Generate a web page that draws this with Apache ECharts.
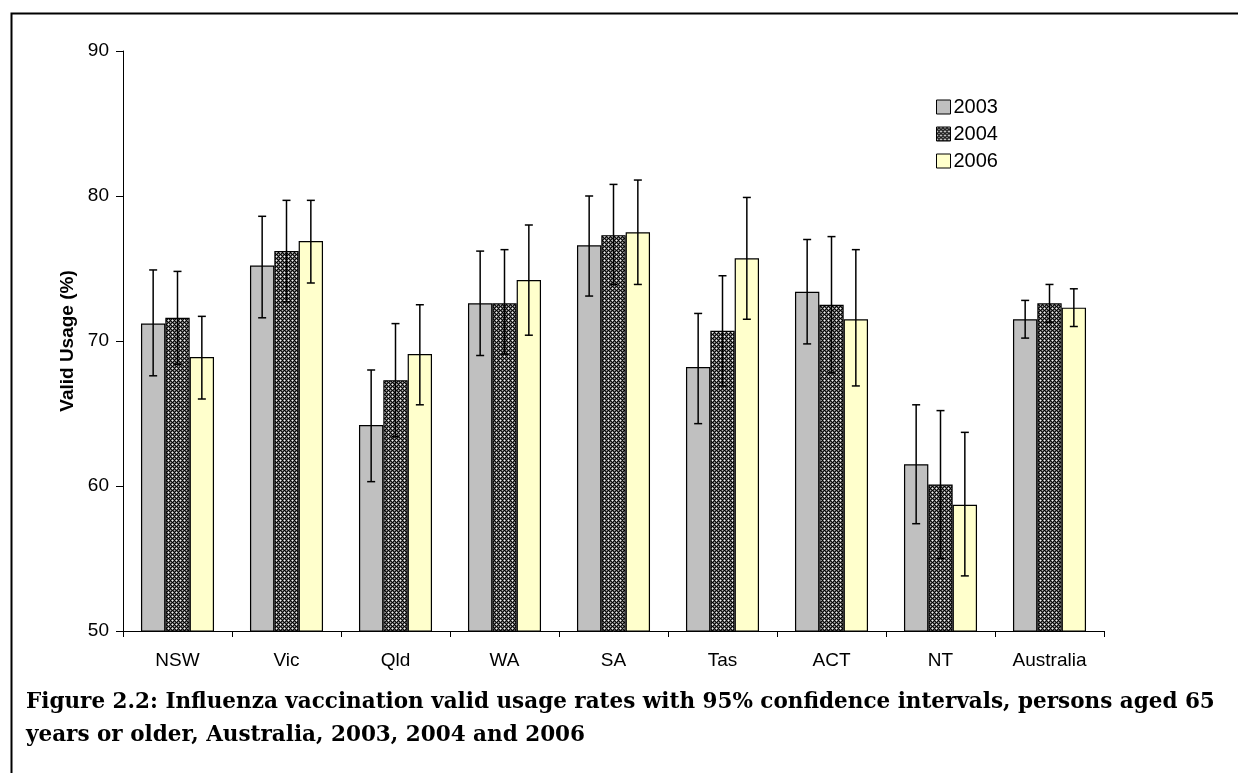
<!DOCTYPE html>
<html>
<head>
<meta charset="utf-8">
<script src="https://cdn.jsdelivr.net/npm/echarts@6/dist/echarts.min.js"></script>
<style>
html,body{margin:0;padding:0;background:#fff;}
#chart{width:1238px;height:773px;}
</style>
</head>
<body>
<div id="chart"></div>
<script>
const categories = ['NSW','Vic','Qld','WA','SA','Tas','ACT','NT','Australia'];
const years = ['2003','2004','2006'];
const v2003  = [71.2, 75.2, 64.2, 72.6, 76.6, 68.2, 73.4, 61.5, 71.5];
const lo2003 = [67.6, 71.6, 60.3, 69.0, 73.1, 64.3, 69.8, 57.4, 70.2];
const hi2003 = [74.9, 78.6, 68.0, 76.2, 80.0, 71.9, 77.0, 65.6, 72.8];
const v2004  = [71.6, 76.2, 67.3, 72.6, 77.3, 70.7, 72.5, 60.1, 72.6];
const lo2004 = [68.4, 72.7, 63.4, 69.1, 73.9, 66.9, 67.8, 55.0, 71.3];
const hi2004 = [74.8, 79.7, 71.2, 76.3, 80.8, 74.5, 77.2, 65.2, 73.9];
const v2006  = [68.9, 76.9, 69.1, 74.2, 77.5, 75.7, 71.5, 58.7, 72.3];
const lo2006 = [66.0, 74.0, 65.6, 70.4, 73.9, 71.5, 66.9, 53.8, 71.0];
const hi2006 = [71.7, 79.7, 72.5, 78.0, 81.1, 79.9, 76.3, 63.7, 73.6];
const yTicks = [50, 60, 70, 80, 90];
const yTitle = 'Valid Usage (%)';
const caption1 = 'Figure 2.2: Influenza vaccination valid usage rates with 95% confidence intervals, persons aged 65';
const caption2 = 'years or older, Australia, 2003, 2004 and 2006';

// crosshatch pattern for 2004
const pc = document.createElement('canvas');
pc.width = 4; pc.height = 4;
const pctx = pc.getContext('2d');
const tile = [
  ['#f0f0f0','#909090','#000000','#909090'],
  ['#909090','#101010','#404040','#101010'],
  ['#000000','#404040','#b0b0b0','#404040'],
  ['#909090','#101010','#404040','#101010']
];
for (let y = 0; y < 4; y++) for (let x = 0; x < 4; x++) {
  pctx.fillStyle = tile[y][x];
  pctx.fillRect(x, y, 1, 1);
}
const hatch = { image: pc, repeat: 'repeat' };

const GAP = 0.33;
const values = [v2003, v2004, v2006];
const lows = [lo2003, lo2004, lo2006];
const highs = [hi2003, hi2004, hi2006];
const fills = ['#c0c0c0', hatch, '#ffffcc'];

function errSeries(k) {
  return {
    type: 'custom',
    name: 'err' + years[k],
    z: 10,
    silent: true,
    data: categories.map((c, i) => [i, lows[k][i], highs[k][i]]),
    renderItem: function (params, api) {
      const i = api.value(0);
      const band = api.size([1, 0])[0];
      const bw = band * (1 - GAP) / 3;
      const p1 = api.coord([i, api.value(1)]);
      const p2 = api.coord([i, api.value(2)]);
      const x = p1[0] + (k - 1) * bw;
      const hw = 4;
      const st = { stroke: '#000', lineWidth: 1.5 };
      return {
        type: 'group',
        children: [
          { type: 'line', shape: { x1: x, y1: p1[1], x2: x, y2: p2[1] }, style: st },
          { type: 'line', shape: { x1: x - hw, y1: p1[1], x2: x + hw, y2: p1[1] }, style: st },
          { type: 'line', shape: { x1: x - hw, y1: p2[1], x2: x + hw, y2: p2[1] }, style: st }
        ]
      };
    }
  };
}

const series = [];
years.forEach((y, k) => {
  series.push({
    type: 'bar',
    name: y,
    data: values[k],
    barCategoryGap: (GAP * 100) + '%',
    barGap: '0%',
    itemStyle: { color: fills[k], borderColor: '#000', borderWidth: 1.2 }
  });
});
years.forEach((y, k) => series.push(errSeries(k)));

const chart = echarts.init(document.getElementById('chart'), null, { renderer: 'canvas' });
chart.setOption({
  animation: false,
  backgroundColor: '#fff',
  grid: { left: 123, top: 51, right: 134, bottom: 142 },
  legend: {
    data: years,
    orient: 'vertical',
    left: 936,
    top: 97,
    padding: 0,
    itemWidth: 14,
    itemHeight: 14,
    itemGap: 7,
    icon: 'rect',
    itemStyle: { borderColor: '#000', borderWidth: 1 },
    textStyle: { fontFamily: 'Liberation Sans, Arial', fontSize: 20, color: '#000', padding: [0, 0, 0, -2], lineHeight: 20 }
  },
  xAxis: {
    type: 'category',
    data: categories,
    axisLine: { lineStyle: { color: '#000', width: 1 } },
    axisTick: { show: true, length: 6, lineStyle: { color: '#000' } },
    axisLabel: { color: '#000', fontFamily: 'Liberation Sans, Arial', fontSize: 19, margin: 20 }
  },
  yAxis: {
    type: 'value',
    min: 50, max: 90, interval: 10,
    name: yTitle,
    nameLocation: 'middle',
    nameGap: 38,
    nameTextStyle: { color: '#000', fontFamily: 'Liberation Sans, Arial', fontSize: 19, fontWeight: 'bold' },
    axisLine: { show: true, lineStyle: { color: '#000', width: 1 } },
    axisTick: { show: true, length: 7, lineStyle: { color: '#000' } },
    splitLine: { show: false },
    axisLabel: { color: '#000', fontFamily: 'Liberation Sans, Arial', fontSize: 19, margin: 14,
      formatter: v => (yTicks.indexOf(v) >= 0 ? String(v) : '') }
  },
  graphic: [
    { type: 'rect', left: 9, top: 11, shape: { x: 0, y: 0, width: 1300, height: 800 },
      style: { fill: 'none', stroke: '#000', lineWidth: 2 }, silent: true, z: -1 },
    { type: 'text', x: 26, y: 702, style: { text: caption1, fill: '#000', verticalAlign: 'middle',
      font: 'bold 21.5px "DejaVu Serif", serif' } },
    { type: 'text', x: 26, y: 735, style: { text: caption2, fill: '#000', verticalAlign: 'middle',
      font: 'bold 21.5px "DejaVu Serif", serif' } }
  ],
  series: series
});
</script>
</body>
</html>
